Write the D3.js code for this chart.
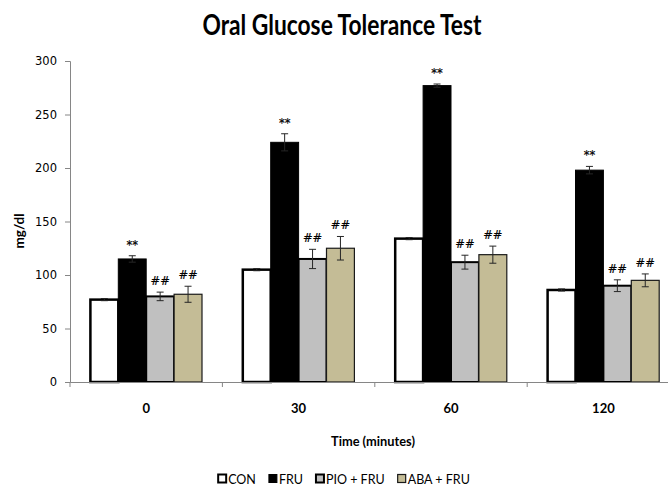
<!DOCTYPE html>
<html>
<head>
<meta charset="utf-8">
<script src="https://cdn.jsdelivr.net/npm/d3@7"></script>
<style>
  body { margin: 0; background: #fff; }
  svg { display: block; }
</style>
</head>
<body>
<div id="chart"></div>
<script>
var svgWidth = 668;
var svgHeight = 493;

// Data
var times = ["0", "30", "60", "120"];
var groups = ["CON", "FRU", "PIO + FRU", "ABA + FRU"];
var conMean = [77, 105, 134, 86];
var conErr = [1, 1, 1, 1];
var fruMean = [115, 224, 277, 198];
var fruErr = [3, 8, 1.5, 3.5];
var pioMean = [80, 115, 112, 90];
var pioErr = [4, 9, 6.5, 5.5];
var abaMean = [82, 125, 119, 95];
var abaErr = [7.5, 11, 8, 6];
var fruMarks = ["**", "**", "**", "**"];
var pioMarks = ["##", "##", "##", "##"];
var abaMarks = ["##", "##", "##", "##"];
var yTicks = [0, 50, 100, 150, 200, 250, 300];

var series = [
  { name: groups[0], mean: conMean, err: conErr, marks: null, fill: "#ffffff", stroke: "#000", sw: 2.5 },
  { name: groups[1], mean: fruMean, err: fruErr, marks: fruMarks, fill: "#000000", stroke: "#000", sw: 1 },
  { name: groups[2], mean: pioMean, err: pioErr, marks: pioMarks, fill: "#c0c0c0", stroke: "#000", sw: 2 },
  { name: groups[3], mean: abaMean, err: abaErr, marks: abaMarks, fill: "#c4bc96", stroke: "#1a1a1a", sw: 1.2 }
];

var margin = { top: 61, left: 70 };
var plotBottom = 382;
var catWidth = 152.4;

var svg = d3.select("#chart")
  .append("svg")
  .attr("width", svgWidth)
  .attr("height", svgHeight);

var x = d3.scaleBand()
  .domain(times)
  .range([margin.left, margin.left + catWidth * times.length]);

var xSub = d3.scaleBand()
  .domain(groups)
  .range([20.4, catWidth - 20.4]);

var y = d3.scaleLinear()
  .domain([0, 300])
  .range([plotBottom, margin.top]);

// Title
svg.append("text")
  .attr("x", 342)
  .attr("y", 35)
  .attr("text-anchor", "middle")
  .attr("font-family", "Lato, sans-serif")
  .attr("font-weight", "bold")
  .attr("font-size", 29)
  .attr("textLength", 279)
  .attr("lengthAdjust", "spacingAndGlyphs")
  .text("Oral Glucose Tolerance Test");

// Y axis
var yAxis = svg.append("g")
  .attr("transform", `translate(${margin.left},0)`)
  .call(d3.axisLeft(y).tickValues(yTicks).tickSize(5).tickPadding(8));
yAxis.select(".domain").attr("stroke", "#868686");
yAxis.selectAll(".tick line").attr("stroke", "#868686");
yAxis.selectAll(".tick text")
  .attr("font-family", "DejaVu Sans, Verdana, sans-serif")
  .attr("font-size", 11.5)
  .attr("fill", "#000");

// Bars
var catG = svg.selectAll(".cat")
  .data(times)
  .enter()
  .append("g")
  .attr("class", "cat")
  .attr("transform", d => `translate(${x(d)},0)`);

series.forEach(function(s) {
  catG.append("rect")
    .attr("x", xSub(s.name))
    .attr("y", (d, i) => y(s.mean[i]))
    .attr("width", xSub.bandwidth())
    .attr("height", (d, i) => y(0) - y(s.mean[i]))
    .attr("fill", s.fill)
    .attr("stroke", s.stroke)
    .attr("stroke-width", s.sw);
});

// Error bars
series.forEach(function(s) {
  var cx = xSub(s.name) + xSub.bandwidth() / 2;
  var errG = catG.append("g").attr("stroke", "#262626").attr("stroke-width", 1);
  errG.append("line")
    .attr("x1", cx).attr("x2", cx)
    .attr("y1", (d, i) => y(s.mean[i] + s.err[i]))
    .attr("y2", (d, i) => y(s.mean[i] - s.err[i]));
  [1, -1].forEach(function(sign) {
    errG.append("line")
      .attr("x1", cx - 3.5).attr("x2", cx + 3.5)
      .attr("y1", (d, i) => y(s.mean[i] + sign * s.err[i]))
      .attr("y2", (d, i) => y(s.mean[i] + sign * s.err[i]));
  });
});

// Significance marks
series.forEach(function(s) {
  if (!s.marks) return;
  var cx = xSub(s.name) + xSub.bandwidth() / 2;
  catG.append("text")
    .attr("x", cx)
    .attr("y", (d, i) => y(s.mean[i] + s.err[i]) - 7)
    .attr("text-anchor", "middle")
    .attr("font-family", "DejaVu Sans, Verdana, sans-serif")
    .attr("font-size", 11.5)
    .attr("fill", "#000")
    .attr("stroke", "#000")
    .attr("stroke-width", 0.2)
    .text((d, i) => s.marks[i]);
});

// X axis
var xAxis = svg.append("g")
  .attr("transform", `translate(0,${plotBottom})`)
  .call(d3.axisBottom(x).tickSize(0).tickPadding(22));
xAxis.select(".domain").attr("stroke", "#868686");
xAxis.selectAll(".tick text")
  .attr("font-family", "Lato, sans-serif")
  .attr("font-weight", "bold")
  .attr("font-size", 13)
  .attr("fill", "#000");

// Category boundary ticks
var bounds = times.map(d => x(d)).concat([x.range()[1]]);
svg.append("g")
  .selectAll("line")
  .data(bounds)
  .enter()
  .append("line")
  .attr("x1", d => d).attr("x2", d => d)
  .attr("y1", plotBottom).attr("y2", plotBottom + 5)
  .attr("stroke", "#868686");

// Axis titles
svg.append("text")
  .attr("x", 373)
  .attr("y", 446)
  .attr("text-anchor", "middle")
  .attr("font-family", "Lato, sans-serif")
  .attr("font-weight", "bold")
  .attr("font-size", 14)
  .attr("textLength", 84)
  .attr("lengthAdjust", "spacingAndGlyphs")
  .text("Time (minutes)");

svg.append("text")
  .attr("transform", "translate(24,231) rotate(-90)")
  .attr("text-anchor", "middle")
  .attr("font-family", "Lato, sans-serif")
  .attr("font-weight", "bold")
  .attr("font-size", 13.5)
  .text("mg/dl");

// Legend
var legend = svg.append("g").attr("transform", "translate(0,479)");
var items = legend.selectAll(".item")
  .data(series)
  .enter()
  .append("g")
  .attr("class", "item");

items.append("rect")
  .attr("x", 0).attr("y", -4.5)
  .attr("width", 8).attr("height", 8)
  .attr("fill", d => d.fill)
  .attr("stroke", d => d.stroke)
  .attr("stroke-width", d => Math.min(d.sw, 2));

items.append("text")
  .attr("x", 10)
  .attr("y", 4.5)
  .attr("font-family", "Lato, sans-serif")
  .attr("font-size", 12.5)
  .attr("fill", "#000")
  .text(d => d.name);

var gap = 13;
var widths = [];
items.each(function() {
  widths.push(10 + d3.select(this).select("text").node().getComputedTextLength());
});
var total = d3.sum(widths) + gap * (widths.length - 1);
var cursor = 344 - total / 2;
items.attr("transform", function(d, i) {
  var t = `translate(${cursor},0)`;
  cursor += widths[i] + gap;
  return t;
});
</script>
</body>
</html>
